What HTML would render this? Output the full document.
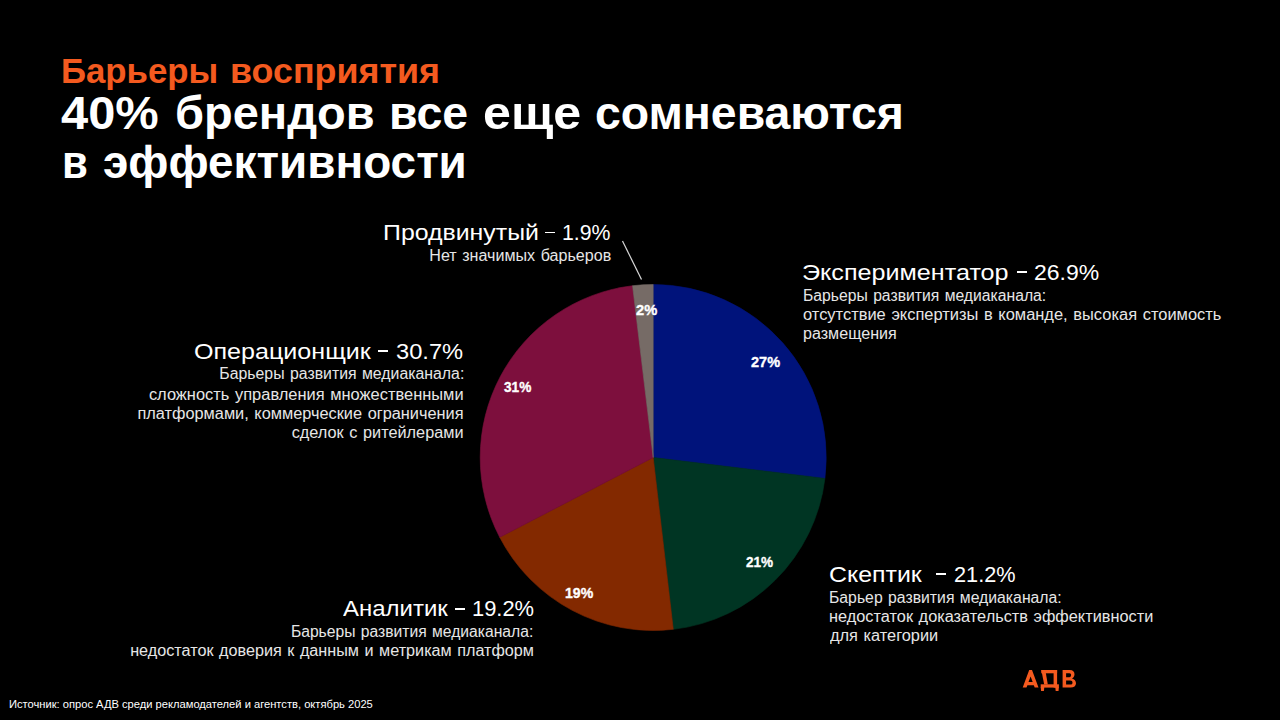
<!DOCTYPE html>
<html lang="ru"><head><meta charset="utf-8"><title>Барьеры восприятия</title>
<style>
html,body{margin:0;padding:0;background:#000;}
body{width:1280px;height:720px;position:relative;overflow:hidden;font-family:"Liberation Sans",sans-serif;}
.t{position:absolute;white-space:nowrap;}
.d{position:absolute;height:1.9px;background:#fff;}
</style></head><body>
<svg width="1280" height="720" viewBox="0 0 1280 720" style="position:absolute;left:0;top:0"><path d="M653.20,457.50 L653.20,284.50 A173.0,173.0 0 0 1 824.93,478.39 Z" fill="#00137B" stroke="#00137B" stroke-width="0.6" stroke-linejoin="round"/><path d="M653.20,457.50 L824.93,478.39 A173.0,173.0 0 0 1 673.28,629.33 Z" fill="#003523" stroke="#003523" stroke-width="0.6" stroke-linejoin="round"/><path d="M653.20,457.50 L673.28,629.33 A173.0,173.0 0 0 1 499.72,537.32 Z" fill="#832900" stroke="#832900" stroke-width="0.6" stroke-linejoin="round"/><path d="M653.20,457.50 L499.72,537.32 A173.0,173.0 0 0 1 632.58,285.73 Z" fill="#7D0F3D" stroke="#7D0F3D" stroke-width="0.6" stroke-linejoin="round"/><path d="M653.20,457.50 L632.58,285.73 A173.0,173.0 0 0 1 653.20,284.50 Z" fill="#766B66" stroke="#766B66" stroke-width="0.6" stroke-linejoin="round"/><line x1="622.5" y1="241" x2="641.5" y2="279.5" stroke="#d9d9d9" stroke-width="1.2"/><g fill="#F45A1F"><path fill-rule="evenodd" d="M1022.7,687.6 L1029.2,670 L1032,670 L1038.5,687.6 L1034.7,687.6 L1033.8,685.2 L1027.4,685.2 L1026.5,687.6 Z M1028.5,682.1 L1032.7,682.1 L1030.6,676.5 Z"/><path d="M1041.3,670 H1057.1 V673.3 H1041.3 Z"/><path d="M1053.6,670 H1057.1 V687.6 H1053.6 Z"/><path d="M1041.3,670 L1045.3,670 L1047.8,684.6 L1044.2,684.6 Z"/><path d="M1040.7,684.3 H1058.9 V687.6 H1040.7 Z"/><path d="M1040.7,687 H1044.3 L1043.9,690.9 H1041.1 Z"/><path d="M1055.3,687 H1058.9 L1058.5,690.9 H1055.7 Z"/><path fill-rule="evenodd" d="M1062.6,670 H1069.8 C1073,670 1074.5,671.9 1074.5,674.3 C1074.5,676.2 1073.6,677.7 1072,678.5 C1074.5,679.2 1076,681.1 1076,683.3 C1076,686 1074,687.6 1070.6,687.6 H1062.6 Z M1066.1,673.3 H1069.4 C1070.6,673.3 1071.1,674.1 1071.1,675.1 C1071.1,676.1 1070.6,677.2 1069.4,677.2 H1066.1 Z M1066.1,680.6 H1070.1 C1071.7,680.6 1072.5,681.5 1072.5,682.7 C1072.5,683.9 1071.7,684.6 1070.1,684.6 H1066.1 Z"/></g></svg>
<div class="t" id="t1a" style="font-size:34.90px;line-height:34.90px;font-weight:700;color:#F45A1F;top:54.26px;word-spacing:0.0px;left:61.40px;transform-origin:0 50%;transform:scaleX(0.9969);">Барьеры</div>
<div class="t" id="t1b" style="font-size:34.90px;line-height:34.90px;font-weight:700;color:#F45A1F;top:54.26px;word-spacing:0.0px;left:230.40px;transform-origin:0 50%;transform:scaleX(1.0277);">восприятия</div>
<div class="t" id="t2a" style="font-size:46.50px;line-height:46.50px;font-weight:700;color:#FFFFFF;top:89.64px;word-spacing:0.0px;left:61.00px;transform-origin:0 50%;transform:scaleX(1.0494);">40%</div>
<div class="t" id="t2b" style="font-size:46.50px;line-height:46.50px;font-weight:700;color:#FFFFFF;top:89.64px;word-spacing:0.0px;left:175.00px;transform-origin:0 50%;transform:scaleX(1.0105);">брендов</div>
<div class="t" id="t2c" style="font-size:46.50px;line-height:46.50px;font-weight:700;color:#FFFFFF;top:89.64px;word-spacing:0.0px;left:389.00px;transform-origin:0 50%;transform:scaleX(1.0002);">все</div>
<div class="t" id="t2d" style="font-size:46.50px;line-height:46.50px;font-weight:700;color:#FFFFFF;top:89.64px;word-spacing:0.0px;left:483.00px;transform-origin:0 50%;transform:scaleX(1.0795);">еще</div>
<div class="t" id="t2e" style="font-size:46.50px;line-height:46.50px;font-weight:700;color:#FFFFFF;top:89.64px;word-spacing:0.0px;left:595.00px;transform-origin:0 50%;transform:scaleX(0.9976);">сомневаются</div>
<div class="t" id="t3a" style="font-size:46.50px;line-height:46.50px;font-weight:700;color:#FFFFFF;top:139.04px;word-spacing:0.0px;left:61.60px;transform-origin:0 50%;transform:scaleX(0.9041);">в</div>
<div class="t" id="t3b" style="font-size:46.50px;line-height:46.50px;font-weight:700;color:#FFFFFF;top:139.04px;word-spacing:0.0px;left:102.50px;transform-origin:0 50%;transform:scaleX(0.9870);">эффективности</div>
<div class="t" id="p1a" style="font-size:22.60px;line-height:22.60px;font-weight:400;color:#FFFFFF;top:221.87px;word-spacing:0.0px;left:382.60px;transform-origin:0 50%;transform:scaleX(1.1009);">Продвинутый</div>
<div class="t" id="p1n" style="font-size:22.60px;line-height:22.60px;font-weight:400;color:#FFFFFF;top:221.87px;word-spacing:0.0px;left:562.20px;transform-origin:0 50%;transform:scaleX(0.9418);">1.9%</div>
<div class="t" id="p2" style="font-size:15.60px;line-height:15.60px;font-weight:400;color:#E6E6E6;top:247.59px;word-spacing:1.0px;right:669.00px;transform-origin:100% 50%;transform:scaleX(1.0324);">Нет значимых барьеров</div>
<div class="t" id="e1a" style="font-size:22.60px;line-height:22.60px;font-weight:400;color:#FFFFFF;top:261.67px;word-spacing:0.0px;left:801.50px;transform-origin:0 50%;transform:scaleX(1.1129);">Экспериментатор</div>
<div class="t" id="e1n" style="font-size:22.60px;line-height:22.60px;font-weight:400;color:#FFFFFF;top:261.67px;word-spacing:0.0px;left:1033.80px;transform-origin:0 50%;transform:scaleX(1.0164);">26.9%</div>
<div class="t" id="e2" style="font-size:15.60px;line-height:15.60px;font-weight:400;color:#E6E6E6;top:287.79px;word-spacing:1.0px;left:803.00px;transform-origin:0 50%;transform:scaleX(1.0078);">Барьеры развития медиаканала:</div>
<div class="t" id="e3" style="font-size:15.60px;line-height:15.60px;font-weight:400;color:#E6E6E6;top:306.99px;word-spacing:1.0px;left:802.60px;transform-origin:0 50%;transform:scaleX(1.0548);">отсутствие экспертизы в команде, высокая стоимость</div>
<div class="t" id="e4" style="font-size:15.60px;line-height:15.60px;font-weight:400;color:#E6E6E6;top:326.19px;word-spacing:1.0px;left:802.60px;transform-origin:0 50%;transform:scaleX(1.0324);">размещения</div>
<div class="t" id="o1a" style="font-size:22.60px;line-height:22.60px;font-weight:400;color:#FFFFFF;top:340.67px;word-spacing:0.0px;left:194.20px;transform-origin:0 50%;transform:scaleX(1.1102);">Операционщик</div>
<div class="t" id="o1n" style="font-size:22.60px;line-height:22.60px;font-weight:400;color:#FFFFFF;top:340.67px;word-spacing:0.0px;left:395.80px;transform-origin:0 50%;transform:scaleX(1.0479);">30.7%</div>
<div class="t" id="o2" style="font-size:15.60px;line-height:15.60px;font-weight:400;color:#E6E6E6;top:366.39px;word-spacing:1.0px;right:816.00px;transform-origin:100% 50%;transform:scaleX(1.0153);">Барьеры развития медиаканала:</div>
<div class="t" id="o3" style="font-size:15.60px;line-height:15.60px;font-weight:400;color:#E6E6E6;top:386.99px;word-spacing:1.0px;right:816.80px;transform-origin:100% 50%;transform:scaleX(1.0539);">сложность управления множественными</div>
<div class="t" id="o4" style="font-size:15.60px;line-height:15.60px;font-weight:400;color:#E6E6E6;top:405.59px;word-spacing:1.0px;right:816.80px;transform-origin:100% 50%;transform:scaleX(1.0467);">платформами, коммерческие ограничения</div>
<div class="t" id="o5" style="font-size:15.60px;line-height:15.60px;font-weight:400;color:#E6E6E6;top:424.79px;word-spacing:1.0px;right:816.80px;transform-origin:100% 50%;transform:scaleX(1.0443);">сделок с ритейлерами</div>
<div class="t" id="a1a" style="font-size:22.60px;line-height:22.60px;font-weight:400;color:#FFFFFF;top:598.47px;word-spacing:0.0px;left:343.20px;transform-origin:0 50%;transform:scaleX(1.0608);">Аналитик</div>
<div class="t" id="a1n" style="font-size:22.60px;line-height:22.60px;font-weight:400;color:#FFFFFF;top:598.47px;word-spacing:0.0px;left:472.40px;transform-origin:0 50%;transform:scaleX(0.9686);">19.2%</div>
<div class="t" id="a2" style="font-size:15.60px;line-height:15.60px;font-weight:400;color:#E6E6E6;top:624.19px;word-spacing:1.0px;right:747.20px;transform-origin:100% 50%;transform:scaleX(1.0045);">Барьеры развития медиаканала:</div>
<div class="t" id="a3" style="font-size:15.60px;line-height:15.60px;font-weight:400;color:#E6E6E6;top:642.79px;word-spacing:1.0px;right:746.00px;transform-origin:100% 50%;transform:scaleX(1.0381);">недостаток доверия к данным и метрикам платформ</div>
<div class="t" id="s1a" style="font-size:22.60px;line-height:22.60px;font-weight:400;color:#FFFFFF;top:563.67px;word-spacing:0.0px;left:828.60px;transform-origin:0 50%;transform:scaleX(1.1025);">Скептик</div>
<div class="t" id="s1n" style="font-size:22.60px;line-height:22.60px;font-weight:400;color:#FFFFFF;top:563.67px;word-spacing:0.0px;left:954.00px;transform-origin:0 50%;transform:scaleX(0.9611);">21.2%</div>
<div class="t" id="s2" style="font-size:15.60px;line-height:15.60px;font-weight:400;color:#E6E6E6;top:589.79px;word-spacing:1.0px;left:829.00px;transform-origin:0 50%;transform:scaleX(1.0115);">Барьер развития медиаканала:</div>
<div class="t" id="s3" style="font-size:15.60px;line-height:15.60px;font-weight:400;color:#E6E6E6;top:609.19px;word-spacing:1.0px;left:829.00px;transform-origin:0 50%;transform:scaleX(1.0468);">недостаток доказательств эффективности</div>
<div class="t" id="s4" style="font-size:15.60px;line-height:15.60px;font-weight:400;color:#E6E6E6;top:627.79px;word-spacing:1.0px;left:830.00px;transform-origin:0 50%;transform:scaleX(1.0486);">для категории</div>
<div class="t" id="f1" style="font-size:10.90px;line-height:10.90px;font-weight:400;color:#FFFFFF;top:699.37px;word-spacing:0.0px;left:9.00px;transform-origin:0 50%;transform:scaleX(1.0240);">Источник: опрос АДВ среди рекламодателей и агентств, октябрь 2025</div>
<div class="t" id="l2" style="font-size:15.20px;line-height:15.20px;font-weight:700;color:#FFFFFF;top:302.38px;word-spacing:0.0px;-webkit-text-stroke:0.35px #fff;left:636.40px;transform-origin:0 50%;transform:scaleX(0.9655);">2%</div>
<div class="t" id="l27" style="font-size:15.20px;line-height:15.20px;font-weight:700;color:#FFFFFF;top:353.63px;word-spacing:0.0px;-webkit-text-stroke:0.35px #fff;left:751.40px;transform-origin:0 50%;transform:scaleX(0.9562);">27%</div>
<div class="t" id="l31" style="font-size:15.20px;line-height:15.20px;font-weight:700;color:#FFFFFF;top:379.28px;word-spacing:0.0px;-webkit-text-stroke:0.35px #fff;left:504.20px;transform-origin:0 50%;transform:scaleX(0.8965);">31%</div>
<div class="t" id="l21" style="font-size:15.20px;line-height:15.20px;font-weight:700;color:#FFFFFF;top:553.98px;word-spacing:0.0px;-webkit-text-stroke:0.35px #fff;left:746.40px;transform-origin:0 50%;transform:scaleX(0.8920);">21%</div>
<div class="t" id="l19" style="font-size:15.20px;line-height:15.20px;font-weight:700;color:#FFFFFF;top:584.68px;word-spacing:0.0px;-webkit-text-stroke:0.35px #fff;left:565.00px;transform-origin:0 50%;transform:scaleX(0.9283);">19%</div>
<div class="d" style="left:545.00px;width:9.80px;top:231.55px;"></div>
<div class="d" style="left:1016.90px;width:10.50px;top:271.35px;"></div>
<div class="d" style="left:378.00px;width:10.20px;top:350.35px;"></div>
<div class="d" style="left:454.80px;width:10.20px;top:607.65px;"></div>
<div class="d" style="left:936.20px;width:9.90px;top:573.35px;"></div>
</body></html>
